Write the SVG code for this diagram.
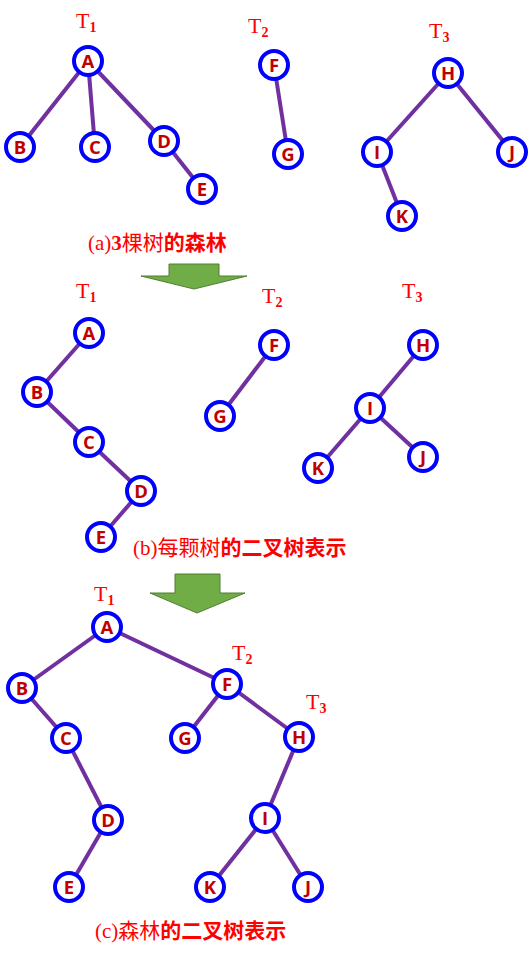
<svg xmlns="http://www.w3.org/2000/svg" width="531" height="957" viewBox="0 0 531 957">
<style>
.e{stroke:#7030A0;stroke-width:4;fill:none}
.n circle{fill:#fff;stroke:#0000FF;stroke-width:4}
.n text{fill:#C00000;font-family:"Open Sans","Liberation Sans",sans-serif;font-weight:bold;font-size:18.5px;text-anchor:middle}
.t{fill:#FF0000;font-family:"Liberation Serif",serif;font-size:22px}
.t tspan{font-size:14px;font-weight:bold}
.cap{fill:#FF0000;font-family:"Liberation Serif","Noto Sans CJK SC",serif;font-size:21px}
.arr{fill:#70AD47;stroke:#507E32;stroke-width:1}
</style>
<rect width="531" height="957" fill="#fff"/>
<g id="connectors">
<line class="e" x1="88" y1="61" x2="20" y2="147"/>
<line class="e" x1="88" y1="61" x2="95" y2="147"/>
<line class="e" x1="88" y1="61" x2="164" y2="141"/>
<line class="e" x1="164" y1="141" x2="202" y2="189"/>
<line class="e" x1="274" y1="65" x2="288" y2="154"/>
<line class="e" x1="448" y1="73" x2="377" y2="152"/>
<line class="e" x1="448" y1="73" x2="512" y2="152"/>
<line class="e" x1="377" y1="152" x2="402" y2="216"/>
<line class="e" x1="89" y1="333" x2="37" y2="392"/>
<line class="e" x1="37" y1="392" x2="89" y2="442"/>
<line class="e" x1="89" y1="442" x2="141" y2="491"/>
<line class="e" x1="141" y1="491" x2="101" y2="537"/>
<line class="e" x1="274" y1="345" x2="220" y2="416"/>
<line class="e" x1="423" y1="345" x2="370" y2="408"/>
<line class="e" x1="370" y1="408" x2="318" y2="468"/>
<line class="e" x1="370" y1="408" x2="423" y2="457"/>
<line class="e" x1="107" y1="627" x2="22" y2="688"/>
<line class="e" x1="107" y1="627" x2="227" y2="684"/>
<line class="e" x1="22" y1="688" x2="66" y2="738"/>
<line class="e" x1="66" y1="738" x2="108" y2="820"/>
<line class="e" x1="108" y1="820" x2="69" y2="887"/>
<line class="e" x1="227" y1="684" x2="185" y2="738"/>
<line class="e" x1="227" y1="684" x2="299" y2="737"/>
<line class="e" x1="299" y1="737" x2="265" y2="818"/>
<line class="e" x1="265" y1="818" x2="210" y2="887"/>
<line class="e" x1="265" y1="818" x2="308" y2="887"/>
</g>
<g id="a-A" class="n"><circle cx="88" cy="61" r="14"/><text x="88" y="67.5">A</text></g>
<g id="a-B" class="n"><circle cx="20" cy="147" r="14"/><text x="20" y="153.5">B</text></g>
<g id="a-C" class="n"><circle cx="95" cy="147" r="14"/><text x="95" y="153.5">C</text></g>
<g id="a-D" class="n"><circle cx="164" cy="141" r="14"/><text x="164" y="147.5">D</text></g>
<g id="a-E" class="n"><circle cx="202" cy="189" r="14"/><text x="202" y="195.5">E</text></g>
<g id="a-F" class="n"><circle cx="274" cy="65" r="14"/><text x="274" y="71.5">F</text></g>
<g id="a-G" class="n"><circle cx="288" cy="154" r="14"/><text x="288" y="160.5">G</text></g>
<g id="a-H" class="n"><circle cx="448" cy="73" r="14"/><text x="448" y="79.5">H</text></g>
<g id="a-I" class="n"><circle cx="377" cy="152" r="14"/><text x="377" y="158.5">I</text></g>
<g id="a-J" class="n"><circle cx="512" cy="152" r="14"/><text x="512" y="158.5">J</text></g>
<g id="a-K" class="n"><circle cx="402" cy="216" r="14"/><text x="402" y="222.5">K</text></g>
<g id="b-A" class="n"><circle cx="89" cy="333" r="14"/><text x="89" y="339.5">A</text></g>
<g id="b-B" class="n"><circle cx="37" cy="392" r="14"/><text x="37" y="398.5">B</text></g>
<g id="b-C" class="n"><circle cx="89" cy="442" r="14"/><text x="89" y="448.5">C</text></g>
<g id="b-D" class="n"><circle cx="141" cy="491" r="14"/><text x="141" y="497.5">D</text></g>
<g id="b-E" class="n"><circle cx="101" cy="537" r="14"/><text x="101" y="543.5">E</text></g>
<g id="b-F" class="n"><circle cx="274" cy="345" r="14"/><text x="274" y="351.5">F</text></g>
<g id="b-G" class="n"><circle cx="220" cy="416" r="14"/><text x="220" y="422.5">G</text></g>
<g id="b-H" class="n"><circle cx="423" cy="345" r="14"/><text x="423" y="351.5">H</text></g>
<g id="b-I" class="n"><circle cx="370" cy="408" r="14"/><text x="370" y="414.5">I</text></g>
<g id="b-J" class="n"><circle cx="423" cy="457" r="14"/><text x="423" y="463.5">J</text></g>
<g id="b-K" class="n"><circle cx="318" cy="468" r="14"/><text x="318" y="474.5">K</text></g>
<g id="c-A" class="n"><circle cx="107" cy="627" r="14"/><text x="107" y="633.5">A</text></g>
<g id="c-B" class="n"><circle cx="22" cy="688" r="14"/><text x="22" y="694.5">B</text></g>
<g id="c-C" class="n"><circle cx="66" cy="738" r="14"/><text x="66" y="744.5">C</text></g>
<g id="c-D" class="n"><circle cx="108" cy="820" r="14"/><text x="108" y="826.5">D</text></g>
<g id="c-E" class="n"><circle cx="69" cy="887" r="14"/><text x="69" y="893.5">E</text></g>
<g id="c-F" class="n"><circle cx="227" cy="684" r="14"/><text x="227" y="690.5">F</text></g>
<g id="c-G" class="n"><circle cx="185" cy="738" r="14"/><text x="185" y="744.5">G</text></g>
<g id="c-H" class="n"><circle cx="299" cy="737" r="14"/><text x="299" y="743.5">H</text></g>
<g id="c-I" class="n"><circle cx="265" cy="818" r="14"/><text x="265" y="824.5">I</text></g>
<g id="c-K" class="n"><circle cx="210" cy="887" r="14"/><text x="210" y="893.5">K</text></g>
<g id="c-J" class="n"><circle cx="308" cy="887" r="14"/><text x="308" y="893.5">J</text></g>
<g id="labels">
<text class="t" x="76" y="28">T<tspan dy="4">1</tspan></text>
<text class="t" x="248" y="33">T<tspan dy="4">2</tspan></text>
<text class="t" x="429" y="38">T<tspan dy="4">3</tspan></text>
<text class="t" x="76" y="298">T<tspan dy="4">1</tspan></text>
<text class="t" x="262" y="303">T<tspan dy="4">2</tspan></text>
<text class="t" x="402" y="298">T<tspan dy="4">3</tspan></text>
<text class="t" x="94" y="601">T<tspan dy="4">1</tspan></text>
<text class="t" x="232" y="660">T<tspan dy="4">2</tspan></text>
<text class="t" x="306" y="709">T<tspan dy="4">3</tspan></text>
<text class="cap" x="88" y="250">(a)<tspan font-weight="bold">3</tspan>棵树<tspan font-weight="bold">的森林</tspan></text>
<text class="cap" x="133" y="555">(b)每颗树<tspan font-weight="bold">的二叉树表示</tspan></text>
<text class="cap" x="95" y="938">(c)森林<tspan font-weight="bold">的二叉树表示</tspan></text>
</g>
<g id="arrows">
<polygon class="arr" points="169,264 219,264 219,276 247,276 194,289 141,276 169,276"/>
<polygon class="arr" points="175,574 220,574 220,593 245,593 197,613 150,593 175,593"/>
</g>
</svg>
